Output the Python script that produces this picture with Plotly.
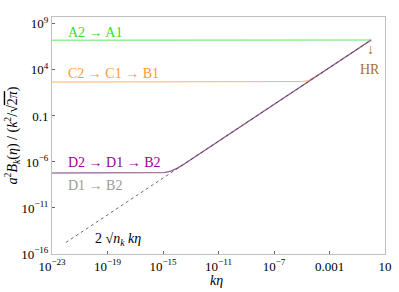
import plotly.graph_objects as go

# ---- data ----
k_green = [1e-23, 1e-1, 1.0]
b_green = [1.70e7, 1.70e7, 1.78e7]

k_orange = [1e-23, 3.16e-6, 1e-5, 2.69e-5, 6.31e-5, 1.58e-4, 5.01e-4, 1.0]
b_orange = [479, 490, 550, 676, 1318, 3020, 9120, 1.78e7]

k_purple = [1e-23, 5.01e-16, 1.26e-15, 3.55e-15, 1e-14, 3.16e-14, 1.0]
b_purple = [6.31e-8, 6.31e-8, 7.08e-8, 1e-7, 2e-7, 5.62e-7, 1.78e7]

k_gray = k_purple
b_gray = b_purple

k_asym = [1e-22, 1.0]
b_asym = [1.78e-15, 1.78e7]

x_tickvals = [1e-23, 1e-19, 1e-15, 1e-11, 1e-7, 1e-3, 10]
x_ticktext = ["10<sup>−23</sup>", "10<sup>−19</sup>", "10<sup>−15</sup>", "10<sup>−11</sup>",
              "10<sup>−7</sup>", "0.001", "10"]
y_tickvals = [1e-16, 1e-11, 1e-6, 0.1, 1e4, 1e9]
y_ticktext = ["10<sup>−16</sup>", "10<sup>−11</sup>", "10<sup>−6</sup>", "0.1",
              "10<sup>4</sup>", "10<sup>9</sup>"]

GREEN = "#4be34b"
ORANGE = "#ffac5a"
PURPLE = "#a040a0"
GRAY = "#9a9a9a"
BROWN = "#a8702e"
FONT = "Liberation Serif, Times New Roman, DejaVu Serif, serif"

fig = go.Figure()
fig.add_trace(go.Scatter(x=k_green, y=b_green, mode="lines",
                         line=dict(color=GREEN, width=0.9), showlegend=False))
fig.add_trace(go.Scatter(x=k_orange, y=b_orange, mode="lines",
                         line=dict(color=ORANGE, width=0.9), showlegend=False))
fig.add_trace(go.Scatter(x=k_gray, y=b_gray, mode="lines",
                         line=dict(color=GRAY, width=1.1), showlegend=False))
fig.add_trace(go.Scatter(x=k_purple, y=b_purple, mode="lines",
                         line=dict(color=PURPLE, width=1.2), opacity=0.65, showlegend=False))
fig.add_trace(go.Scatter(x=k_asym, y=b_asym, mode="lines",
                         line=dict(color="#444444", width=0.8, dash="dot"), showlegend=False))

def label(x, y, text, color, size=14, xanchor="left"):
    fig.add_annotation(x=x, y=y, xref="paper", yref="paper", text=text, showarrow=False,
                       xanchor=xanchor, yanchor="middle",
                       font=dict(family=FONT, size=size, color=color))

# paper coords: plot x 52..392, y 17..254
def px(x):
    return (x - 52) / 340
def py(y):
    return (254 - y) / 237

label(px(66), py(32), "A2 → A1", "#33dd33")
label(px(66), py(74), "C2 → C1 → B1", "#ff9a38")
label(px(66), py(162), "D2 → D1 → B2", "#990099")
label(px(66), py(185), "D1 → B2", GRAY)
label(px(94), py(239), "2 √<i>n<sub>k</sub></i> <i>kη</i>", "black")
label(px(377), py(50), "↓", BROWN, xanchor="center")
label(px(377), py(69), "HR", BROWN, xanchor="center")
label(px(220), py(280), "<i>kη</i>", "black", xanchor="center")

fig.update_layout(
    width=399, height=292,
    margin=dict(l=52, r=7, t=17, b=38),
    paper_bgcolor="white", plot_bgcolor="white",
    font=dict(family=FONT, size=13, color="black"),
    showlegend=False,
)
fig.update_xaxes(type="log", range=[-23, 1], tickvals=x_tickvals, ticktext=x_ticktext,
                 showgrid=False, zeroline=False, showline=True, linecolor="#c0c0c0",
                 linewidth=1, mirror=True, ticks="inside", ticklen=3, tickcolor="#666",
                 tickfont=dict(family=FONT, size=13))
fig.update_yaxes(type="log", range=[-16, 9.75], tickvals=y_tickvals, ticktext=y_ticktext,
                 showgrid=False, zeroline=False, showline=True, linecolor="#c0c0c0",
                 linewidth=1, mirror=True, ticks="inside", ticklen=3, tickcolor="#666",
                 tickfont=dict(family=FONT, size=13),
                 title=dict(text="<i>a</i><sup>2</sup><i>B<sub>k</sub></i>(<i>η</i>) / (<i>k</i><sup>2</sup>/√<span style='text-decoration:overline'>2<i>π</i></span>)",
                            font=dict(family=FONT, size=14), standoff=0))

fig.write_html("out.html", config={"displayModeBar": False},
               post_script="document.body.style.margin='0';")
